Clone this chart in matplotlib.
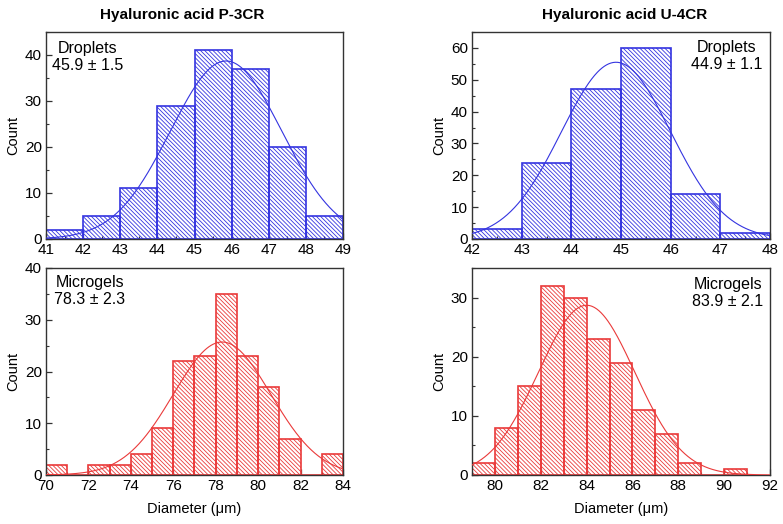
import numpy as np
import matplotlib
matplotlib.use("Agg")
import matplotlib.pyplot as plt
from matplotlib.ticker import MultipleLocator

plt.rcParams['font.family'] = ['Liberation Sans', 'DejaVu Sans']
plt.rcParams['hatch.linewidth'] = 0.6

# ---- data ----
p3cr_drop_edges = [41, 42, 43, 44, 45, 46, 47, 48]
p3cr_drop_counts = [2, 5, 11, 29, 41, 37, 20, 5]
p3cr_drop_fit = (45.85, 1.5, 38.7)   # mean, sd, peak

u4cr_drop_edges = [42, 43, 44, 45, 46, 47]
u4cr_drop_counts = [3, 24, 47, 60, 14, 2]
u4cr_drop_fit = (44.9, 1.1, 55.5)

p3cr_gel_edges = [70, 71, 72, 73, 74, 75, 76, 77, 78, 79, 80, 81, 82, 83]
p3cr_gel_counts = [2, 0, 2, 2, 4, 9, 22, 23, 35, 23, 17, 7, 0, 4]
p3cr_gel_fit = (78.3, 2.3, 25.7)

u4cr_gel_edges = [79, 80, 81, 82, 83, 84, 85, 86, 87, 88, 89, 90]
u4cr_gel_counts = [2, 8, 15, 32, 30, 23, 19, 11, 7, 2, 0, 1]
u4cr_gel_fit = (84.0, 2.1, 28.7)

titles = ["Hyaluronic acid P-3CR", "Hyaluronic acid U-4CR"]
annots = ["Droplets\n45.9 ± 1.5", "Droplets\n44.9 ± 1.1",
          "Microgels\n78.3 ± 2.3", "Microgels\n83.9 ± 2.1"]

BLUE = '#3434e0'
RED = '#ea3a3a'
W, H = 783, 524

fig = plt.figure(figsize=(W / 100, H / 100), dpi=100)

def ax_at(l, r, t, b):
    return fig.add_axes([l / W, 1 - b / H, (r - l) / W, (b - t) / H])

panels = [
    dict(box=(46, 343, 32, 239), edges=p3cr_drop_edges, counts=p3cr_drop_counts,
         fit=p3cr_drop_fit, color=BLUE, xlim=(41, 49), ylim=(0, 45), xmaj=1, ymaj=10,
         txt=annots[0], txy=(88, 57)),
    dict(box=(472, 770, 32, 239), edges=u4cr_drop_edges, counts=u4cr_drop_counts,
         fit=u4cr_drop_fit, color=BLUE, xlim=(42, 48), ylim=(0, 65), xmaj=1, ymaj=10,
         txt=annots[1], txy=(727, 56)),
    dict(box=(46, 343, 268, 475), edges=p3cr_gel_edges, counts=p3cr_gel_counts,
         fit=p3cr_gel_fit, color=RED, xlim=(70, 84), ylim=(0, 40), xmaj=2, ymaj=10,
         txt=annots[2], txy=(90, 291)),
    dict(box=(472, 770, 268, 475), edges=u4cr_gel_edges, counts=u4cr_gel_counts,
         fit=u4cr_gel_fit, color=RED, xlim=(79, 92), ylim=(0, 35), xmaj=2, ymaj=10,
         txt=annots[3], txy=(728, 293)),
]

for i, p in enumerate(panels):
    ax = ax_at(*p['box'])
    ax.bar(p['edges'], p['counts'], width=1.0, align='edge', facecolor='none',
           edgecolor=p['color'], hatch='\\' * 8, linewidth=1.2, zorder=2)
    m, s, a = p['fit']
    xs = np.linspace(p['xlim'][0], p['xlim'][1], 400)
    ax.plot(xs, a * np.exp(-0.5 * ((xs - m) / s) ** 2), color=p['color'],
            lw=0.8, zorder=3)
    ax.set_xlim(*p['xlim'])
    ax.set_ylim(*p['ylim'])
    ax.xaxis.set_major_locator(MultipleLocator(p['xmaj']))
    ax.yaxis.set_major_locator(MultipleLocator(p['ymaj']))
    ax.yaxis.set_minor_locator(MultipleLocator(p['ymaj'] / 2))
    ax.xaxis.set_minor_locator(MultipleLocator(p['xmaj'] / 2))
    ax.tick_params(which='both', direction='in', labelsize=11, pad=3,
                   color='#333333')
    ax.tick_params(which='major', length=4, width=0.9)
    ax.tick_params(which='minor', length=2, width=0.8)
    for sp in ax.spines.values():
        sp.set_color('#333333')
        sp.set_linewidth(1.0)
    ax.set_ylabel('Count', fontsize=10.5, labelpad=3)
    if i >= 2:
        ax.set_xlabel('Diameter (μm)', fontsize=10.5, labelpad=6)
    tx, ty = p['txy']
    fig.text(tx / W, 1 - ty / H, p['txt'], ha='center', va='center',
             multialignment='center', fontsize=11.5, linespacing=1.2)

fig.text(182 / W, 1 - 15 / H, titles[0], ha='center', va='center',
         fontsize=11, fontweight='bold')
fig.text(625 / W, 1 - 15 / H, titles[1], ha='center', va='center',
         fontsize=11, fontweight='bold')

fig.savefig('out.png', dpi=100)
